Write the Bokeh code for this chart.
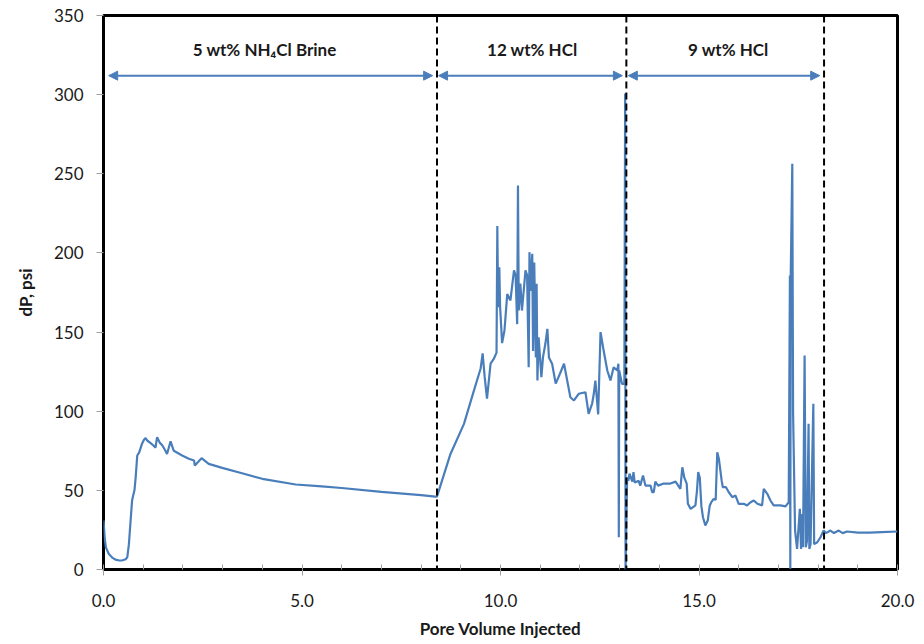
from bokeh.plotting import figure
from bokeh.models import Range1d, Span, Arrow, NormalHead, Label, FixedTicker, NumeralTickFormatter
from bokeh.embed import file_html
from bokeh.resources import INLINE

# ---- data ----
brine_pv = [0.0, 0.03, 0.06, 0.13, 0.22, 0.30, 0.40, 0.48, 0.56, 0.60,
            0.64, 0.68, 0.72, 0.75, 0.78, 0.81, 0.85, 0.90, 0.97, 1.02,
            1.06, 1.10, 1.18, 1.25, 1.31, 1.35, 1.42, 1.48, 1.56, 1.60,
            1.69, 1.77, 1.98, 2.15, 2.28, 2.30, 2.47, 2.65, 2.99, 3.49,
            4.00, 4.84, 5.50, 6.00, 7.00, 8.00, 8.36]
brine_dp = [31, 20, 14, 10, 7.5, 6.2, 5.7, 5.8, 6.5, 7.8,
            16, 30, 43.6, 47, 50, 58, 72, 74, 79.5, 82,
            83, 81.5, 80, 78.5, 77, 83.6, 80, 78.5, 75, 73,
            81, 75, 72, 70, 68.9, 65.7, 70.3, 66.7, 64.2, 60.8,
            57.3, 53.7, 52.5, 51.5, 49, 47, 46]

hcl12_pv = [8.40, 8.74, 9.08, 9.33, 9.50, 9.55, 9.60, 9.66, 9.75, 9.83,
            9.90, 9.92, 9.94, 9.97, 9.99, 10.04, 10.10, 10.17, 10.25, 10.34,
            10.38, 10.42, 10.44, 10.46, 10.50, 10.54, 10.63, 10.67, 10.71, 10.73,
            10.75, 10.80, 10.82, 10.85, 10.89, 10.91, 10.93, 10.96, 11.03, 11.07,
            11.13, 11.18, 11.22, 11.30, 11.39, 11.47, 11.60, 11.68, 11.76, 11.85,
            11.97, 12.14, 12.22, 12.31, 12.35, 12.39, 12.46, 12.52, 12.60, 12.69,
            12.77, 12.85, 12.94, 12.97, 12.98, 12.99, 13.06, 13.12, 13.14, 13.15]
hcl12_dp = [46, 73, 92, 113, 127, 136.5, 122, 108, 130, 133,
            137, 217, 165.7, 191, 166, 143, 151, 174, 170, 189,
            186, 155, 242.6, 163.6, 180.6, 163.6, 189, 186, 127.8, 200.5,
            176, 199.4, 138, 194, 134, 180.5, 119.4, 146.7, 121.5, 134,
            142.6, 152, 134, 130, 117.4, 122, 130, 119.4, 108.8, 106.8,
            111, 112, 98.3, 105, 111, 119.4, 98, 150, 138, 125.7,
            119.4, 127.8, 125.7, 130, 20.4, 125.7, 117.3, 117.3, 300.7, 0]

hcl9_pv = [13.19, 13.22, 13.25, 13.32, 13.35, 13.38, 13.48, 13.52, 13.59, 13.65,
           13.78, 13.82, 13.86, 13.90, 13.97, 14.11, 14.28, 14.41, 14.53, 14.58,
           14.63, 14.69, 14.72, 14.79, 14.91, 14.95, 14.98, 15.02, 15.06, 15.10,
           15.16, 15.22, 15.27, 15.31, 15.37, 15.42, 15.46, 15.50, 15.57, 15.60,
           15.68, 15.75, 15.84, 15.92, 16.00, 16.13, 16.21, 16.30, 16.38, 16.47,
           16.59, 16.63, 16.72, 16.80, 16.88, 17.05, 17.18, 17.26, 17.29, 17.30,
           17.31, 17.35, 17.37, 17.42, 17.47, 17.54, 17.57, 17.60, 17.62, 17.66,
           17.69, 17.72, 17.76, 17.78, 17.81, 17.88, 17.90, 17.98, 18.06, 18.14]
hcl9_dp = [58.3, 56, 60.5, 55.5, 61.5, 55, 56, 53, 59.4, 53,
           53, 48.8, 48.8, 55.5, 53, 54.3, 54.3, 55.5, 51, 64.6,
           58, 54.3, 41.5, 38.3, 40.5, 50, 61.5, 58, 40, 33,
           27.8, 30.9, 40.3, 42.5, 44.6, 44, 74, 70, 56.3, 52,
           52, 48.8, 45.7, 46.7, 41.5, 41.5, 40.5, 42.5, 43.6, 41.5,
           40.5, 51, 47.8, 43.6, 40.5, 40.5, 39.9, 42.5, 185.7, 0.5,
           185, 256.3, 98.5, 24.6, 13, 38.3, 13, 35, 14, 135.2,
           14, 18, 92, 13, 16, 104.7, 16, 17.2, 20.4, 24.6]

post_pv = [18.20, 18.31, 18.40, 18.52, 18.62, 18.73, 19.0, 19.3, 19.6, 20.0]
post_dp = [23, 24.6, 23, 24.6, 23, 24, 23.3, 23.3, 23.6, 24]

stage_bounds = [8.40, 13.17, 18.15]
stage_names = ["5 wt% NH\u2084Cl Brine", "12 wt% HCl", "9 wt% HCl"]
stage_arrow_start = [0.13, 8.44, 13.22]
stage_arrow_end = [8.29, 13.07, 18.04]
stage_label_x = [4.06, 10.80, 15.74]
arrow_level = 312
label_level = 322

y_ticks = [0, 50, 100, 150, 200, 250, 300, 350]
x_ticks = [0, 5, 10, 15, 20]
x_minor = [i for i in range(0, 21)]

pv = brine_pv + hcl12_pv + hcl9_pv + post_pv
dp = brine_dp + hcl12_dp + hcl9_dp + post_dp
assert len(pv) == len(dp)

BLUE = "#4A7EBB"
FONT = "Lato"

p = figure(output_backend="svg", toolbar_location=None,
           frame_width=794, frame_height=554,
           min_border_left=103, min_border_right=19, min_border_top=15, min_border_bottom=73,
           x_range=Range1d(0, 20), y_range=Range1d(0, 350),
           background_fill_color="white", border_fill_color="white")

p.line(pv, dp, line_color=BLUE, line_width=2.2)

for b in stage_bounds:
    p.add_layout(Span(location=b, dimension="height", line_color="black",
                      line_width=2, line_dash="7 4"))

for s, e, name, lx in zip(stage_arrow_start, stage_arrow_end, stage_names, stage_label_x):
    p.add_layout(Arrow(x_start=s, y_start=arrow_level, x_end=e, y_end=arrow_level,
                       line_color=BLUE, line_width=2,
                       start=NormalHead(size=9, fill_color=BLUE, line_color=BLUE),
                       end=NormalHead(size=9, fill_color=BLUE, line_color=BLUE)))
    p.add_layout(Label(x=lx, y=label_level, text=name, text_align="center",
                       text_baseline="bottom", text_font=FONT, text_font_style="bold",
                       text_font_size="17px", text_color="#1a1a1a"))

p.grid.visible = False
p.outline_line_color = "black"
p.outline_line_width = 3
p.outline_line_alpha = 1

p.xaxis.ticker = FixedTicker(ticks=x_ticks, minor_ticks=x_minor)
p.yaxis.ticker = FixedTicker(ticks=y_ticks)
p.xaxis.formatter = NumeralTickFormatter(format="0.0")

for ax in (p.xaxis[0], p.yaxis[0]):
    ax.axis_line_color = None
    ax.major_tick_line_color = "#A0A0A0"
    ax.major_tick_line_width = 1
    ax.major_tick_in = 0
    ax.major_label_text_font = FONT
    ax.major_label_text_font_size = "17px"
    ax.major_label_text_color = "#1a1a1a"
    ax.axis_label_text_font = FONT
    ax.axis_label_text_font_style = "bold"
    ax.axis_label_text_font_size = "17px"
    ax.axis_label_text_color = "#1a1a1a"

p.xaxis.major_tick_out = 6
p.xaxis.minor_tick_in = 5
p.xaxis.minor_tick_out = 0
p.xaxis.minor_tick_line_color = "#A0A0A0"
p.xaxis.major_label_standoff = 18
p.xaxis.axis_label = "Pore Volume Injected"
p.xaxis.axis_label_standoff = 8

p.yaxis.major_tick_out = 7
p.yaxis.minor_tick_line_color = None
p.yaxis.major_label_standoff = 13
p.yaxis.axis_label = "dP, psi"
p.yaxis.axis_label_standoff = 15

open("out.html", "w").write(file_html(p, INLINE))
